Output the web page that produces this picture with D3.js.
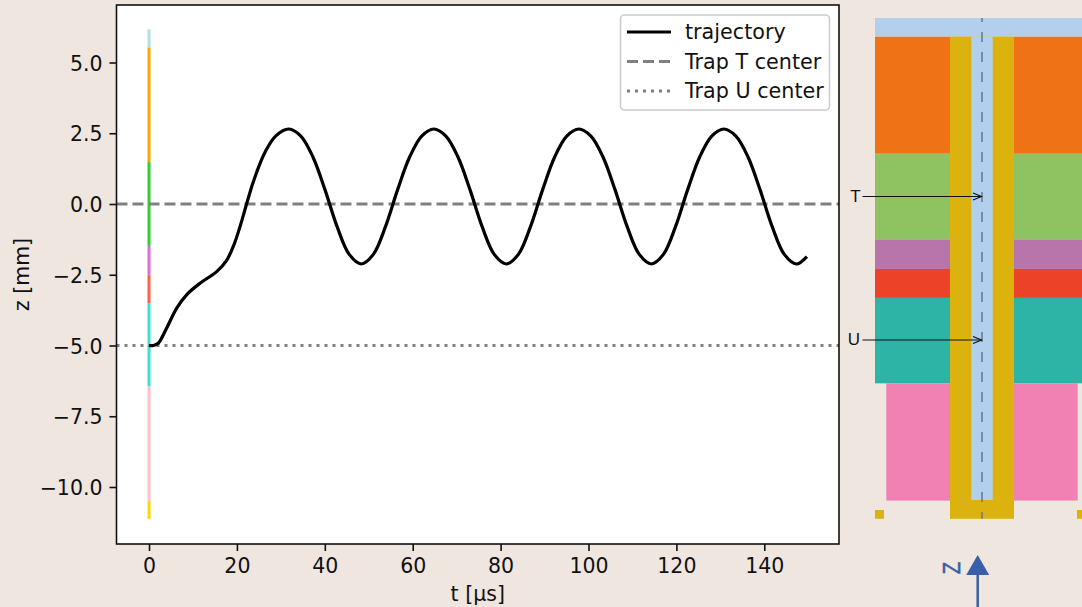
<!DOCTYPE html>
<html>
<head>
<meta charset="utf-8">
<script src="https://cdn.jsdelivr.net/npm/d3@7"></script>
<style>
  html, body { margin: 0; padding: 0; background: #efe6e0; overflow: hidden; }
  text { font-family: "DejaVu Sans", sans-serif; fill: #111; }
</style>
</head>
<body>
<div id="chart"></div>
<script>
// trajectory
var tValues = [0, 1, 2.1, 4, 6.3, 8.6, 11.6, 15.4, 17.7, 19.3, 20.8, 22.2, 23.6, 25, 26.4, 28.8,
  31.8, 34.55, 37.3, 40.05, 42.8, 45.55, 48.3, 51.05, 53.8, 56.55, 59.3, 62.05,
  64.8, 67.55, 70.3, 73.05, 75.8, 78.55, 81.3, 84.05, 86.8, 89.55, 92.3, 95.05,
  97.8, 100.55, 103.3, 106.05, 108.8, 111.55, 114.3, 117.05, 119.8, 122.55, 125.3, 128.05,
  130.8, 133.55, 136.3, 139.05, 141.8, 144.55, 147.3, 149.7];
var zValues = [-5, -5, -4.92, -4.39, -3.68, -3.2, -2.8, -2.39, -1.98, -1.45, -0.75, 0, 0.72, 1.33, 1.83, 2.4,
  2.65, 2.4, 1.66, 0.5, -0.8, -1.78, -2.12, -1.78, -0.8, 0.5, 1.66, 2.4,
  2.65, 2.4, 1.66, 0.5, -0.8, -1.78, -2.12, -1.78, -0.8, 0.5, 1.66, 2.4,
  2.65, 2.4, 1.66, 0.5, -0.8, -1.78, -2.12, -1.78, -0.8, 0.5, 1.66, 2.4,
  2.65, 2.4, 1.66, 0.5, -0.8, -1.78, -2.12, -1.86];

var trapT = 0;
var trapU = -5;

// magnet stack boundaries along z, top to bottom
var stackBounds = [6.17, 5.53, 1.48, -1.48, -2.5, -3.5, -6.45, -10.5, -11.13];
var stripColors = ["#b0e0e6", "#ffa500", "#32cd32", "#da70d6", "#ff6347", "#40e0d0", "#ffc0cb", "#ffd700"];
var layerColors = [null, "#f07216", "#8fc260", "#b775ab", "#ec4328", "#2db4a6", "#f081b2", null];

var xTicks = [0, 20, 40, 60, 80, 100, 120, 140];
var yTicks = [5, 2.5, 0, -2.5, -5, -7.5, -10];
var legendNames = ["trajectory", "Trap T center", "Trap U center"];

createchart();

function createchart() {
  var width = 1082;
  var height = 607;
  var left = 116.5, right = 839, top = 5, bottom = 544;

  var svg = d3.select("#chart").append("svg")
    .attr("width", width)
    .attr("height", height)
    .style("display", "block");

  svg.append("rect")
    .attr("width", width)
    .attr("height", height)
    .attr("fill", "#efe6e0");

  var x = d3.scaleLinear().domain([-7.4, 157]).range([left, right]);
  var y = d3.scaleLinear().domain([0, -10]).range([204, 487]);

  svg.append("rect")
    .attr("x", left)
    .attr("y", top)
    .attr("width", right - left)
    .attr("height", bottom - top)
    .attr("fill", "#fff");

  // coloured strip at t = 0
  stripColors.forEach(function(c, i) {
    svg.append("rect")
      .attr("x", x(0) - 1.5)
      .attr("y", y(stackBounds[i]))
      .attr("width", 3)
      .attr("height", y(stackBounds[i + 1]) - y(stackBounds[i]))
      .attr("fill", c);
  });

  svg.append("line")
    .attr("x1", left).attr("x2", right)
    .attr("y1", y(trapT)).attr("y2", y(trapT))
    .attr("stroke", "#808080").attr("stroke-width", 3)
    .attr("stroke-dasharray", "11,5");

  svg.append("line")
    .attr("x1", left).attr("x2", right)
    .attr("y1", y(trapU)).attr("y2", y(trapU))
    .attr("stroke", "#808080").attr("stroke-width", 3)
    .attr("stroke-dasharray", "3,5");

  var line = d3.line()
    .x(function(d) { return x(d[0]); })
    .y(function(d) { return y(d[1]); })
    .curve(d3.curveCatmullRom.alpha(0.5));

  svg.append("path")
    .attr("d", line(d3.zip(tValues, zValues)))
    .attr("fill", "none")
    .attr("stroke", "#000")
    .attr("stroke-width", 3.2);

  // axes
  var xAxis = svg.append("g")
    .attr("transform", "translate(0," + bottom + ")")
    .call(d3.axisBottom(x).tickValues(xTicks).tickSizeOuter(0).tickSize(7).tickPadding(7));
  var yAxis = svg.append("g")
    .attr("transform", "translate(" + left + ",0)")
    .call(d3.axisLeft(y).tickValues(yTicks).tickFormat(d3.format(".1f")).tickSizeOuter(0).tickSize(7).tickPadding(7));

  [xAxis, yAxis].forEach(function(a) {
    a.select(".domain").remove();
    a.selectAll("line").attr("stroke", "#111").attr("stroke-width", 1.6);
    a.selectAll("text").style("font-size", "20.5px").style("font-family", "DejaVu Sans");
  });
  yAxis.selectAll("text").attr("dy", "0.37em");

  svg.append("rect")
    .attr("x", left)
    .attr("y", top)
    .attr("width", right - left)
    .attr("height", bottom - top)
    .attr("fill", "none")
    .attr("stroke", "#111")
    .attr("stroke-width", 1.6);

  svg.append("text")
    .attr("x", (left + right) / 2)
    .attr("y", 601)
    .attr("text-anchor", "middle")
    .style("font-size", "20.5px")
    .text("t [μs]");

  svg.append("text")
    .attr("transform", "translate(29," + (bottom + top) / 2 + ") rotate(-90)")
    .attr("text-anchor", "middle")
    .style("font-size", "20.5px")
    .text("z [mm]");

  // legend
  svg.append("rect")
    .attr("x", 620.5).attr("y", 15)
    .attr("width", 209).attr("height", 95)
    .attr("rx", 4)
    .attr("fill", "#fff").attr("fill-opacity", 0.8)
    .attr("stroke", "#ccc").attr("stroke-width", 1.6);

  var legendStyles = [
    { stroke: "#000", dash: null },
    { stroke: "#808080", dash: "11,5" },
    { stroke: "#808080", dash: "3,5" }
  ];
  legendNames.forEach(function(name, i) {
    var ly = 32 + i * 29.5;
    svg.append("line")
      .attr("x1", 627).attr("x2", 671)
      .attr("y1", ly).attr("y2", ly)
      .attr("stroke", legendStyles[i].stroke)
      .attr("stroke-width", 3)
      .attr("stroke-dasharray", legendStyles[i].dash);
    svg.append("text")
      .attr("x", 685).attr("y", ly + 7)
      .style("font-size", "20.7px")
      .text(name);
  });

  drawSchematic(svg);
}

function drawSchematic(svg) {
  var sy = d3.scaleLinear().domain([0, -10]).range([196.6, 486.1]);
  var markerY = d3.scaleLinear().domain([trapT, trapU]).range([196.5, 340]);
  var cx = 982;
  var outer = 875, wall = 950, bore = 971.3, bore2 = 992.7, wall2 = 1014, edge = 1082;
  var gold = "#dcb30e", blue = "#b2d0ee";
  var top = sy(stackBounds[0]), stem = sy(stackBounds[1]), end = sy(stackBounds[8]);

  layerColors.forEach(function(c, i) {
    if (!c) return;
    var narrow = i == 6;
    var ya = sy(stackBounds[i]);
    var h = sy(stackBounds[i + 1]) - ya;
    svg.append("rect")
      .attr("x", narrow ? 886.3 : outer).attr("y", ya)
      .attr("width", wall - (narrow ? 886.3 : outer)).attr("height", h)
      .attr("fill", c);
    svg.append("rect")
      .attr("x", wall2).attr("y", ya)
      .attr("width", (narrow ? 1077.7 : edge) - wall2).attr("height", h)
      .attr("fill", c);
  });

  svg.append("rect")
    .attr("x", outer).attr("y", top)
    .attr("width", edge - outer).attr("height", stem - top)
    .attr("fill", blue);

  // gold tube with closed bottom
  svg.append("rect")
    .attr("x", wall).attr("y", stem)
    .attr("width", wall2 - wall).attr("height", end - stem)
    .attr("fill", gold);
  svg.append("rect")
    .attr("x", bore).attr("y", stem)
    .attr("width", bore2 - bore).attr("height", 500 - stem)
    .attr("fill", blue);

  // small gold feet
  svg.append("rect").attr("x", outer).attr("y", 510).attr("width", 9).attr("height", end - 510).attr("fill", gold);
  svg.append("rect").attr("x", 1077).attr("y", 510).attr("width", 5).attr("height", end - 510).attr("fill", gold);

  svg.append("line")
    .attr("x1", cx).attr("x2", cx)
    .attr("y1", top).attr("y2", end)
    .attr("stroke", "#67788f").attr("stroke-width", 1.5)
    .attr("stroke-dasharray", "10,10")
    .attr("stroke-dashoffset", 6);

  // T and U markers
  [["T", trapT, 855.5], ["U", trapU, 854]].forEach(function(m) {
    var my = markerY(m[1]);
    svg.append("text")
      .attr("x", m[2]).attr("y", my + 5)
      .attr("text-anchor", "middle")
      .style("font-size", "17px")
      .style("font-family", "Liberation Sans")
      .text(m[0]);
    svg.append("line")
      .attr("x1", 862.5).attr("x2", cx - 0.5)
      .attr("y1", my).attr("y2", my)
      .attr("stroke", "#111").attr("stroke-width", 1.2);
    svg.append("path")
      .attr("d", "M" + (cx - 9) + " " + (my - 3.5) + " L" + (cx - 0.5) + " " + my + " L" + (cx - 9) + " " + (my + 3.5))
      .attr("fill", "none")
      .attr("stroke", "#111").attr("stroke-width", 1.2);
  });

  // z direction arrow
  svg.append("line")
    .attr("x1", 977.7).attr("x2", 977.7)
    .attr("y1", 570).attr("y2", 607)
    .attr("stroke", "#3a5ea8").attr("stroke-width", 2.5);
  svg.append("path")
    .attr("d", "M977.7 555 L989.2 575 L966.2 575 Z")
    .attr("fill", "#3a5ea8");
  svg.append("text")
    .attr("transform", "translate(960,568) rotate(-90) scale(0.85,1)")
    .attr("text-anchor", "middle")
    .style("font-size", "24px")
    .style("font-family", "Liberation Sans")
    .style("fill", "#3a5ea8")
    .style("stroke", "#3a5ea8")
    .style("stroke-width", 0.6)
    .text("Z");
}
</script>
</body>
</html>
